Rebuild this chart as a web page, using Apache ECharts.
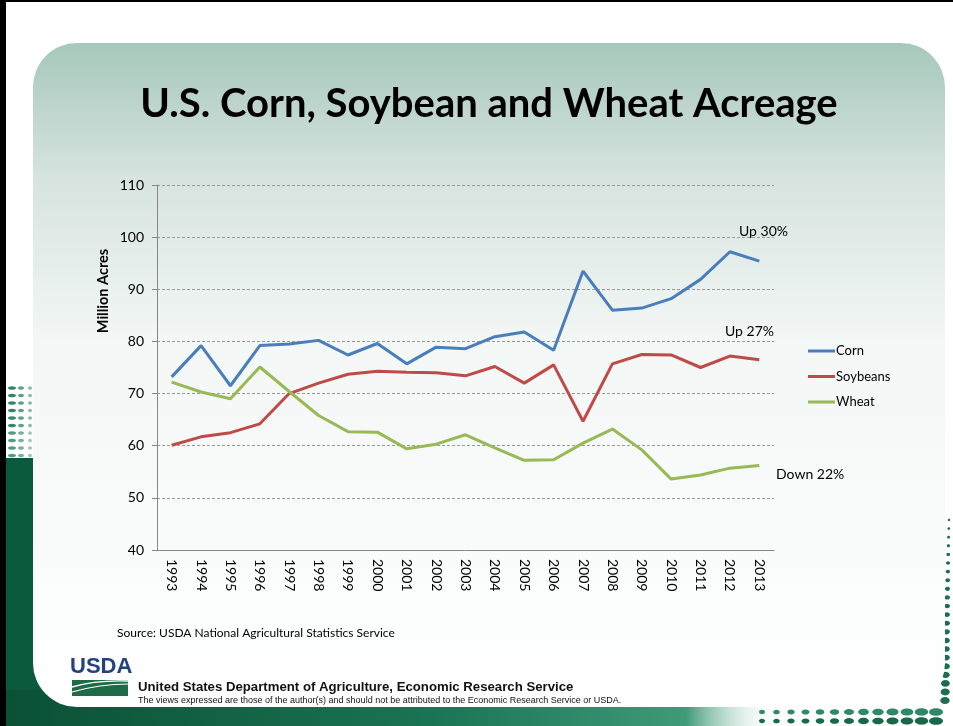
<!DOCTYPE html>
<html>
<head>
<meta charset="utf-8">
<title>U.S. Corn, Soybean and Wheat Acreage</title>
<script src="https://cdn.jsdelivr.net/npm/echarts@6/dist/echarts.min.js"></script>
<style>
  html, body { margin: 0; padding: 0; background: #fff; }
  #chart { width: 953px; height: 726px; }
</style>
</head>
<body>
<div id="chart"></div>
<script>
// planted acres, million acres
const years = ['1993', '1994', '1995', '1996', '1997', '1998', '1999', '2000', '2001', '2002', '2003',
  '2004', '2005', '2006', '2007', '2008', '2009', '2010', '2011', '2012', '2013']
const corn = [73.2, 79.2, 71.5, 79.2, 79.5, 80.2, 77.4, 79.6, 75.7, 78.9, 78.6,
  80.9, 81.8, 78.3, 93.5, 86.0, 86.4, 88.2, 91.9, 97.2, 95.4]
const soybeans = [60.1, 61.7, 62.5, 64.2, 70.0, 72.0, 73.7, 74.3, 74.1, 74.0, 73.4,
  75.2, 72.0, 75.5, 64.7, 75.7, 77.5, 77.4, 75.0, 77.2, 76.5]
const wheat = [72.2, 70.3, 69.0, 75.1, 70.4, 65.8, 62.7, 62.6, 59.4, 60.3, 62.1,
  59.6, 57.2, 57.3, 60.5, 63.2, 59.2, 53.6, 54.4, 55.7, 56.2]
const yTicks = { min: 40, max: 110, interval: 10 }

const colors = { corn: '#4a7ebb', soybeans: '#be4b48', wheat: '#98b954' }
const font = 'Lato, "Open Sans", sans-serif'
const arial = '"Liberation Sans", Arial, sans-serif'

const chart = echarts.init(document.getElementById('chart'))

// slide decoration: frame, rounded panel, green bands and dot patterns
const deco = []
deco.push({ type: 'rect', z: -20, shape: { x: 0, y: 458, width: 45, height: 268 }, style: { fill: '#0c5a3d' } })
deco.push({
  type: 'rect', z: -20, shape: { x: 0, y: 690, width: 953, height: 36 },
  style: {
    fill: new echarts.graphic.LinearGradient(0, 0, 1, 0, [
      { offset: 0, color: '#0a5034' }, { offset: 0.45, color: '#1a7352' },
      { offset: 0.72, color: '#3f9a78' }, { offset: 0.82, color: 'rgba(255,255,255,0)' },
      { offset: 1, color: 'rgba(255,255,255,0)' }
    ])
  }
})
// dots on the left edge
for (let r = 0; r < 10; r++) {
  for (let c = 0; c < 3; c++) {
    deco.push({
      type: 'ellipse', z: -19,
      shape: { cx: 12 + c * 9, cy: 388 + r * 7.5, rx: 4 - c, ry: 1.8 },
      style: { fill: r < 6 ? '#1d7a55' : '#3f9274', opacity: 0.9 - c * 0.2 }
    })
  }
}
// dots on the right edge
for (let i = 0; i < 22; i++) {
  const k = i / 21
  deco.push({
    type: 'ellipse', z: -19,
    shape: { cx: 949 - k * 4, cy: 520 + i * 8.6, rx: 1.2 + k * 3.5, ry: 1.2 + k * 2.3 },
    style: { fill: '#1b6e4e' }
  })
}
// dots along the bottom right
for (let row = 0; row < 2; row++) {
  for (let i = 0; i < 13; i++) {
    const k = i / 12
    deco.push({
      type: 'ellipse', z: -19,
      shape: { cx: 762 + i * 14.5, cy: 712 + row * 9, rx: 3 + k * 4, ry: 2.2 + k * 1.6 },
      style: { fill: row === 0 ? '#2d8a66' : '#17694a' }
    })
  }
}
deco.push({
  type: 'rect', z: -18, shape: { x: 33, y: 43, width: 912, height: 664, r: 44 },
  style: {
    fill: new echarts.graphic.LinearGradient(0, 0, 0, 1, [
      { offset: 0, color: '#a6c8bb' }, { offset: 0.2, color: '#d6e3df' },
      { offset: 0.45, color: '#f3f7f6' }, { offset: 1, color: '#ffffff' }
    ])
  }
})
deco.push({ type: 'rect', z: -17, shape: { x: 0, y: 0, width: 6, height: 726 }, style: { fill: '#000' } })
deco.push({ type: 'rect', z: -17, shape: { x: 0, y: 0, width: 953, height: 2 }, style: { fill: '#000' } })

// USDA logo
deco.push({ type: 'text', z: 5, x: 70, y: 656, style: { text: 'USDA', font: 'bold 22px ' + arial, fill: '#23407f' } })
deco.push({ type: 'rect', z: 5, shape: { x: 72, y: 680, width: 56, height: 16 }, style: { fill: '#1d6b47' } })
deco.push({ type: 'bezierCurve', z: 6, shape: { x1: 72, y1: 687, x2: 128, y2: 681, cpx1: 95, cpy1: 680 }, style: { stroke: '#fff', lineWidth: 1.5, fill: null } })
deco.push({ type: 'bezierCurve', z: 6, shape: { x1: 72, y1: 692, x2: 128, y2: 684, cpx1: 100, cpy1: 684 }, style: { stroke: '#fff', lineWidth: 1.2, fill: null } })

const texts = [
  { x: 489, y: 104, style: { text: 'U.S. Corn, Soybean and Wheat Acreage', font: 'bold 40px ' + font, fill: '#000', align: 'center', verticalAlign: 'middle' } },
  { x: 103, y: 291, rotation: Math.PI / 2,
    style: { text: 'Million Acres', font: 'bold 14.5px ' + font, fill: '#000', align: 'center', verticalAlign: 'middle' } },
  { x: 739, y: 224, style: { text: 'Up 30%', font: '14px ' + font, fill: '#000' } },
  { x: 725, y: 324, style: { text: 'Up 27%', font: '14px ' + font, fill: '#000' } },
  { x: 776, y: 467, style: { text: 'Down 22%', font: '14px ' + font, fill: '#000' } },
  { x: 117, y: 627, style: { text: 'Source: USDA National Agricultural Statistics Service', font: '12px ' + font, fill: '#000' } },
  { x: 138, y: 681, style: { text: 'United States Department of Agriculture, Economic Research Service', font: 'bold 13.2px ' + arial, fill: '#111' } },
  { x: 138, y: 696, style: { text: 'The views expressed are those of the author(s) and should not be attributed to the Economic Research Service or USDA.', font: '9px ' + arial, fill: '#111' } }
].map(t => Object.assign({ type: 'text', z: 5 }, t))

const option = {
  animation: false,
  graphic: { elements: deco.concat(texts) },
  grid: { left: 157, right: 179, top: 185, bottom: 176, containLabel: false },
  legend: {
    orient: 'vertical',
    left: 803,
    top: 338,
    icon: 'rect',
    itemWidth: 27,
    itemHeight: 3,
    itemGap: 9.5,
    textStyle: { fontFamily: font, fontSize: 13, color: '#000', lineHeight: 16, padding: [0, 0, 0, -4] },
    data: ['Corn', 'Soybeans', 'Wheat']
  },
  xAxis: {
    type: 'category',
    data: years,
    boundaryGap: true,
    axisLine: { lineStyle: { color: '#868686', width: 1 } },
    axisTick: { length: 5, lineStyle: { color: '#868686' } },
    axisLabel: { rotate: -90, margin: 9, fontFamily: font, fontSize: 14, color: '#000' }
  },
  yAxis: {
    type: 'value',
    min: yTicks.min,
    max: yTicks.max,
    interval: yTicks.interval,
    axisLine: { show: true, lineStyle: { color: '#868686', width: 1 } },
    axisTick: { show: true, length: 5, lineStyle: { color: '#868686' } },
    axisLabel: { margin: 13, fontFamily: font, fontSize: 14, color: '#000' },
    splitLine: { lineStyle: { color: '#9a9a9a', type: [3, 2], width: 1 } }
  },
  series: [
    { name: 'Corn', type: 'line', data: corn, symbol: 'none', color: colors.corn, lineStyle: { width: 3 } },
    { name: 'Soybeans', type: 'line', data: soybeans, symbol: 'none', color: colors.soybeans, lineStyle: { width: 3 } },
    { name: 'Wheat', type: 'line', data: wheat, symbol: 'none', color: colors.wheat, lineStyle: { width: 3 } }
  ]
}

chart.setOption(option)
</script>
</body>
</html>
